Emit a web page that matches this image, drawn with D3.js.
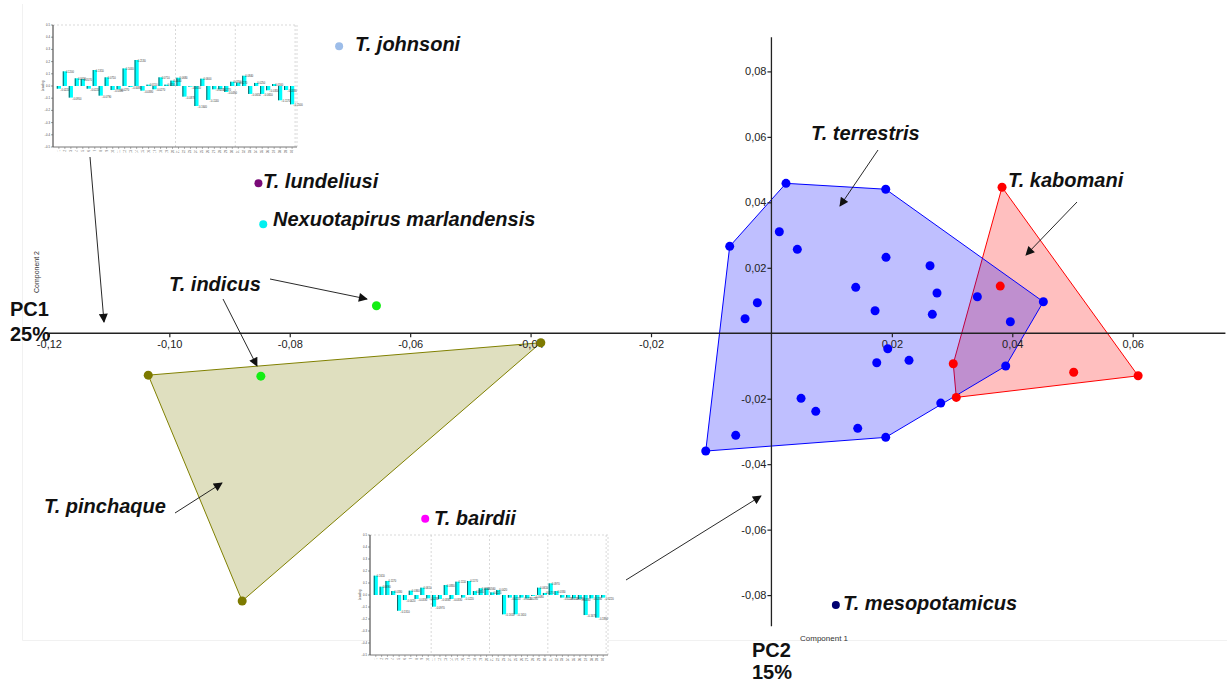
<!DOCTYPE html>
<html>
<head>
<meta charset="utf-8">
<script src="https://cdn.jsdelivr.net/npm/d3@7"></script>
<style>
  body { margin: 0; background: #fff; }
</style>
</head>
<body>
<div id="canvas"></div>
<script>
// PCA scores, [PC1, PC2]
const terrestris = [
  [0.00242, 0.0458], [0.01898, 0.0440], [0.04516, 0.00962], [0.03891, -0.01002],
  [0.02812, -0.02133], [0.01898, -0.03181], [-0.01091, -0.03599], [-0.00693, 0.02655],
  [0.00131, 0.03101], [0.0043, 0.02563], [0.01903, 0.02319], [0.02634, 0.02062],
  [0.014, 0.01402], [0.0275, 0.01228], [0.0342, 0.01115], [-0.00234, 0.00932],
  [0.01721, 0.00687], [0.02672, 0.00577], [-0.00438, 0.00443], [0.03968, 0.00351],
  [0.01932, -0.00474], [0.01749, -0.00901], [0.02285, -0.00828], [0.00492, -0.01989],
  [0.00736, -0.02386], [0.01433, -0.02906], [-0.00593, -0.03119]
];
const kabomani = [
  [0.0383, 0.0446], [0.038, 0.0144], [0.0302, -0.00932],
  [0.0307, -0.0196], [0.0502, -0.0119], [0.0609, -0.013]
];
const pinchaque = [[-0.1035, -0.0128], [-0.0383, -0.0029], [-0.0879, -0.0818]];
const indicus = [[-0.0656, 0.0084], [-0.0848, -0.0131]];

const singleNames = ["T. johnsoni", "T. lundeliusi", "Nexuotapirus marlandensis", "T. bairdii", "T. mesopotamicus"];
const singlePC1 = [-0.0718, -0.0852, -0.0844, -0.0575, 0.0107];
const singlePC2 = [0.0877, 0.0458, 0.0333, -0.0567, -0.083];

const xTicks = [-0.12, -0.1, -0.08, -0.06, -0.04, -0.02, 0.02, 0.04, 0.06];
const yTicks = [0.08, 0.06, 0.04, 0.02, -0.02, -0.04, -0.06, -0.08];

// loadings shown in the two small inset plots
const loadings1 = [
  -0.022, 0.12, -0.095, 0.063, 0.057, -0.022, 0.131, -0.079, 0.071, -0.033,
  -0.027, 0.144, -0.008, 0.213, -0.038, 0.011, -0.027, 0.071, 0.011, 0.044,
  0.068, -0.087, -0.005, -0.164, 0.06, -0.114, -0.027, -0.027, -0.049, 0.035,
  0.027, 0.084, -0.065, 0.025, -0.065, -0.035, 0.016, -0.117, -0.033, -0.15
];
const loadings2 = [
  0.161, 0.069, 0.117, 0.033, -0.131, -0.042, 0.036, -0.033, 0.061, -0.028,
  -0.097, -0.033, 0.083, -0.033, 0.111, -0.022, 0.117, 0.033, 0.056, 0.056,
  0.022, 0.042, -0.161, -0.022, -0.161, -0.022, -0.028, -0.008, 0.061, 0.017,
  0.097, 0.033, -0.022, -0.022, -0.028, -0.033, -0.167, -0.028, -0.189, -0.022
];
const loadTicks = [-0.5, -0.4, -0.3, -0.2, -0.1, 0, 0.1, 0.2, 0.3, 0.4, 0.5];

const width = 1227;
const height = 682;
const labelFont = "'Liberation Sans', Arial, sans-serif";

const svg = d3.select("#canvas").append("svg")
  .attr("width", width)
  .attr("height", height);

const x = d3.scaleLinear().domain([-0.12, 0.06]).range([48.9, 1132.7]);
const y = d3.scaleLinear().domain([-0.08, 0.08]).range([595.1, 71.4]);

const fmt = d3.formatLocale({ decimal: ",", thousands: ".", grouping: [3], currency: ["", ""], minus: "-" }).format(".2f");

// faint edges of the original plot window
svg.append("path")
  .attr("d", "M22.5,4V640.5H1227")
  .attr("fill", "none").attr("stroke", "#f1f1f1");

svg.append("defs").append("marker")
  .attr("id", "head")
  .attr("viewBox", "0 0 10 10")
  .attr("refX", 9).attr("refY", 5)
  .attr("markerWidth", 10).attr("markerHeight", 9)
  .attr("markerUnits", "userSpaceOnUse")
  .attr("orient", "auto")
  .append("path").attr("d", "M0,0L10,5L0,10z").attr("fill", "#111");

// hulls
const hull = (pts, fill, stroke) => {
  svg.append("path")
    .datum(d3.polygonHull(pts.map((d) => [x(d[0]), y(d[1])])))
    .attr("d", (d) => "M" + d.join("L") + "Z")
    .attr("fill", fill)
    .attr("stroke", stroke)
    .attr("stroke-width", 1);
};
hull(pinchaque, "rgba(128,128,0,0.25)", "#808000");
hull(kabomani, "rgba(255,0,0,0.25)", "#ff0000");
hull(terrestris, "rgba(0,0,255,0.25)", "#0000ff");

// axes
const gx = svg.append("g")
  .attr("transform", `translate(0,${y(0)})`)
  .call(d3.axisBottom(x).tickValues(xTicks).tickFormat(fmt).tickSize(4).tickPadding(3).tickSizeOuter(0));
const gy = svg.append("g")
  .attr("transform", `translate(${x(0)},0)`)
  .call(d3.axisLeft(y).tickValues(yTicks).tickFormat(fmt).tickSize(4).tickPadding(1).tickSizeOuter(0));
[gx, gy].forEach((g) => {
  g.select(".domain").remove();
  g.selectAll("line").attr("stroke", "#222").attr("stroke-width", 1.2);
  g.selectAll("text").attr("fill", "#222").style("font-size", "11px").style("font-family", labelFont);
});
svg.append("line")
  .attr("x1", x(-0.1206)).attr("x2", x(0.0754))
  .attr("y1", y(0)).attr("y2", y(0))
  .attr("stroke", "#222").attr("stroke-width", 1.3);
svg.append("line")
  .attr("x1", x(0)).attr("x2", x(0))
  .attr("y1", y(0.0904)).attr("y2", y(-0.0895))
  .attr("stroke", "#222").attr("stroke-width", 1.3);

// points
const dots = (pts, color, r) => {
  svg.append("g").selectAll("circle").data(pts).enter()
    .append("circle")
    .attr("cx", (d) => x(d[0]))
    .attr("cy", (d) => y(d[1]))
    .attr("r", r)
    .attr("fill", color);
};
dots(pinchaque, "#7d7a00", 4.5);
dots(kabomani, "#ff0000", 4.5);
dots(terrestris, "#0000ff", 4.5);
dots(indicus, "#14ee14", 4.5);

const singleColors = ["#9dbde9", "#7a0a78", "#00f0f0", "#ff00ff", "#000070"];
svg.append("g").selectAll("circle").data(singleNames).enter()
  .append("circle")
  .attr("cx", (d, i) => x(singlePC1[i]))
  .attr("cy", (d, i) => y(singlePC2[i]))
  .attr("r", 4)
  .attr("fill", (d, i) => singleColors[i]);

// small loading plots
function inset(values, box, gridAfter) {
  const g = svg.append("g");
  const bx = d3.scaleBand().domain(d3.range(values.length)).range([box.left + 2, box.right - 1]).padding(0.3);
  const by = d3.scaleLinear().domain([-0.5, 0.5]).range([box.bottom, box.top]);

  g.append("rect")
    .attr("x", box.left).attr("y", box.top)
    .attr("width", box.right - box.left).attr("height", box.bottom - box.top)
    .attr("fill", "#fff");
  g.append("path")
    .attr("d", `M${box.left},${box.top}H${box.right}V${box.bottom}`)
    .attr("fill", "none").attr("stroke", "#c8c8c8").attr("stroke-dasharray", "2,2").attr("stroke-width", 0.7);
  gridAfter.forEach((k) => {
    const gxp = bx(k - 1) + bx.step() - (bx.step() - bx.bandwidth()) / 2;
    g.append("line")
      .attr("x1", gxp).attr("x2", gxp).attr("y1", box.top).attr("y2", box.bottom)
      .attr("stroke", "#c8c8c8").attr("stroke-dasharray", "2,2").attr("stroke-width", 0.7);
  });

  g.selectAll(".b").data(values).enter()
    .append("rect")
    .attr("x", (d, i) => bx(i))
    .attr("y", (d) => by(Math.max(0, d)))
    .attr("width", bx.bandwidth())
    .attr("height", (d) => Math.abs(by(d) - by(0)))
    .attr("fill", "#00ffff");
  g.selectAll(".e").data(values).enter()
    .append("line")
    .attr("x1", (d, i) => bx(i) + 0.5).attr("x2", (d, i) => bx(i) + 0.5)
    .attr("y1", by(0)).attr("y2", (d) => by(d))
    .attr("stroke", "#0b3b3b").attr("stroke-width", 0.8);
  g.selectAll(".v").data(values).enter()
    .append("text")
    .attr("x", (d, i) => bx(i) + bx.bandwidth() - 1)
    .attr("y", (d) => (d >= 0 ? by(d) + 1.5 : by(d) + 2))
    .style("font-size", "2.6px").style("font-family", labelFont)
    .attr("fill", "#333")
    .text((d) => d3.format(".4f")(d));

  g.append("line")
    .attr("x1", box.left).attr("x2", box.left).attr("y1", box.top).attr("y2", box.bottom)
    .attr("stroke", "#333").attr("stroke-width", 1);
  g.append("line")
    .attr("x1", box.left).attr("x2", box.right).attr("y1", box.bottom).attr("y2", box.bottom)
    .attr("stroke", "#555").attr("stroke-width", 0.8);
  loadTicks.forEach((t) => {
    g.append("line")
      .attr("x1", box.left - 2).attr("x2", box.left).attr("y1", by(t)).attr("y2", by(t))
      .attr("stroke", "#555").attr("stroke-width", 0.6);
    g.append("text")
      .attr("x", box.left - 3).attr("y", by(t) + 1)
      .attr("text-anchor", "end")
      .style("font-size", "2.8px").style("font-family", labelFont).attr("fill", "#444")
      .text(d3.format(".1f")(t));
  });
  values.forEach((d, i) => {
    g.append("line")
      .attr("x1", bx(i) + bx.bandwidth() / 2).attr("x2", bx(i) + bx.bandwidth() / 2)
      .attr("y1", box.bottom).attr("y2", box.bottom + 2)
      .attr("stroke", "#666").attr("stroke-width", 0.5);
    g.append("text")
      .attr("transform", `translate(${bx(i) + bx.bandwidth() / 2 + 1},${box.bottom + 3}) rotate(-90)`)
      .attr("text-anchor", "end")
      .style("font-size", "2.6px").style("font-family", labelFont).attr("fill", "#444")
      .text(i + 1);
  });
  g.append("text")
    .attr("transform", `translate(${box.left - 9},${by(0)}) rotate(-90)`)
    .attr("text-anchor", "middle")
    .style("font-size", "3px").style("font-family", labelFont).attr("fill", "#444")
    .text("Loading");
}
inset(loadings1, { left: 53, top: 25, right: 297, bottom: 147 }, [20, 30, 40]);
inset(loadings2, { left: 370, top: 535, right: 608, bottom: 655 }, [10, 20, 30, 40]);

// annotation arrows
const arrows = [
  [90, 157, 104, 322], [270, 279, 367, 299], [223, 299, 257, 366],
  [175, 513, 222, 483], [626, 580, 761, 496], [878, 150, 840, 206], [1077, 202, 1026, 255]
];
svg.append("g").selectAll("line").data(arrows).enter()
  .append("line")
  .attr("x1", (d) => d[0]).attr("y1", (d) => d[1])
  .attr("x2", (d) => d[2]).attr("y2", (d) => d[3])
  .attr("stroke", "#111").attr("stroke-width", 0.9)
  .attr("marker-end", "url(#head)");

// species labels
const labels = [
  ["T. johnsoni", 355, 51], ["T. lundeliusi", 263, 188], ["Nexuotapirus marlandensis", 273, 226],
  ["T. indicus", 169, 291], ["T. pinchaque", 44, 513], ["T. bairdii", 434, 525],
  ["T. terrestris", 811, 140], ["T. kabomani", 1008, 187], ["T. mesopotamicus", 843, 610]
];
svg.append("g").selectAll("text").data(labels).enter()
  .append("text")
  .attr("x", (d) => d[1]).attr("y", (d) => d[2])
  .style("font-family", labelFont)
  .style("font-size", "20px")
  .style("font-weight", "bold")
  .style("font-style", "italic")
  .attr("fill", "#111")
  .text((d) => d[0]);

// axis titles
[["PC1", 10, 316], ["25%", 10, 341], ["PC2", 752, 657], ["15%", 752, 679]].forEach((d) => {
  svg.append("text")
    .attr("x", d[1]).attr("y", d[2])
    .style("font-family", labelFont)
    .style("font-size", "20px")
    .style("font-weight", "bold")
    .attr("fill", "#111")
    .text(d[0]);
});
svg.append("text")
  .attr("x", 800).attr("y", 641)
  .style("font-family", labelFont).style("font-size", "8px").attr("fill", "#333")
  .text("Component 1");
svg.append("text")
  .attr("transform", "translate(39,272) rotate(-90)")
  .attr("text-anchor", "middle")
  .style("font-family", labelFont).style("font-size", "7px").attr("fill", "#333")
  .text("Component 2");
</script>
</body>
</html>
